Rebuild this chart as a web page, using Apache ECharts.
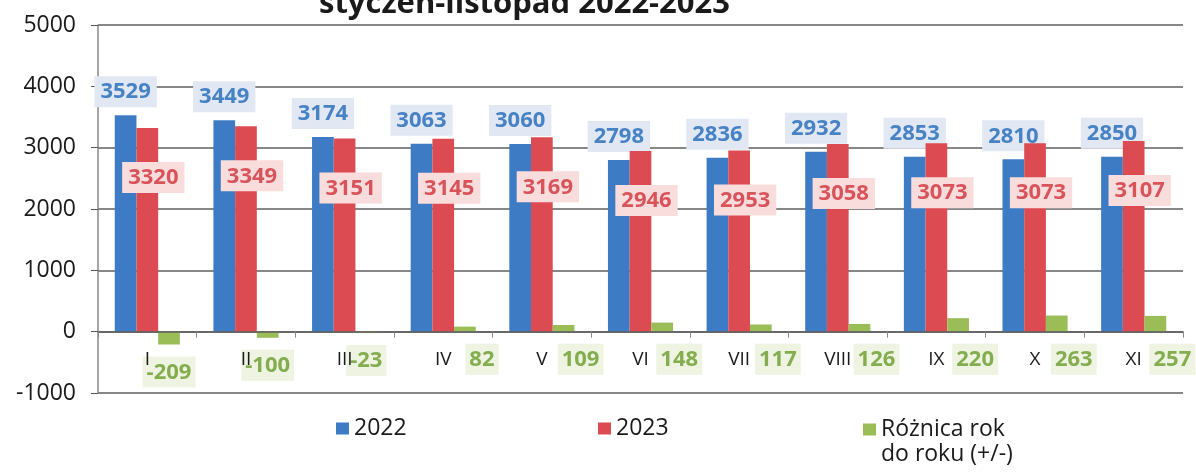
<!DOCTYPE html>
<html>
<head>
<meta charset="utf-8">
<script src="https://cdn.jsdelivr.net/npm/echarts@6/dist/echarts.min.js"></script>
<style>
html,body{margin:0;padding:0;background:#fff;}
#chart{width:1196px;height:472px;}
</style>
</head>
<body>
<div id="chart"></div>
<script>
const titleText = 'styczeń-listopad 2022-2023';
const categories = ['I','II','III','IV','V','VI','VII','VIII','IX','X','XI'];
const values2022 = [3529,3449,3174,3063,3060,2798,2836,2932,2853,2810,2850];
const values2023 = [3320,3349,3151,3145,3169,2946,2953,3058,3073,3073,3107];
const diffValues = [-209,-100,-23,82,109,148,117,126,220,263,257];
const seriesNames = ['2022','2023','Różnica rok do roku (+/-)'];
const yMin = -1000, yMax = 5000, yStep = 1000;

const FONT = 'Open Sans';
const GRID = {left: 98, right: 13, top: 25, bottom: 79};
const gridHeight = 472 - GRID.top - GRID.bottom;
// place the category axis on the zero line
const xAxisOffset = -((0 - yMin) / (yMax - yMin)) * gridHeight;

const chart = echarts.init(document.getElementById('chart'), null, {renderer:'canvas'});

function boxLabel(color, bg, pos, dist, offset, pad) {
  return {
    show: true,
    position: pos,
    distance: dist,
    offset: offset || [0,0],
    color: color,
    backgroundColor: bg,
    padding: pad || [5,6,4,6],
    fontFamily: FONT,
    fontWeight: 'bold',
    fontSize: 22
  };
}

// positive differences have their labels nudged to the right of the month name
const diffData = diffValues.map(function (v) {
  return {value: v, label: {offset: v > 0 ? [17, 0] : [0, 0]}};
});

const legendBase = {
  orient: 'horizontal',
  padding: 0,
  itemWidth: 13,
  itemHeight: 12,
  icon: 'rect',
  textStyle: {fontFamily: FONT, fontSize: 23, color: '#1a1a1a', lineHeight: 25}
};

chart.setOption({
  animation: false,
  backgroundColor: '#ffffff',
  title: {
    text: titleText,
    left: 314,
    top: -16,
    textStyle: {fontFamily: FONT, fontWeight: 'bold', fontSize: 31, color: '#1a1a1a'}
  },
  legend: [
    Object.assign({}, legendBase, {data: [seriesNames[0]], left: 336, top: 416}),
    Object.assign({}, legendBase, {data: [seriesNames[1]], left: 598, top: 416}),
    Object.assign({}, legendBase, {
      data: [seriesNames[2]], left: 863, top: 392,
      formatter: function (n) { return '\n' + n.replace(' do ', '\ndo '); }
    })
  ],
  grid: Object.assign({containLabel: false}, GRID),
  xAxis: {
    type: 'category',
    data: categories,
    offset: xAxisOffset,
    axisLine: {show: true, onZero: false, lineStyle: {color: '#5f5f5f', width: 1.5}},
    axisTick: {show: true, length: 6, lineStyle: {color: '#888'}},
    axisLabel: {margin: 18, fontFamily: FONT, fontSize: 19, color: '#1a1a1a'},
    z: 10
  },
  yAxis: {
    type: 'value',
    min: yMin, max: yMax, interval: yStep,
    axisLine: {show: true, lineStyle: {color: '#8a8a8a', width: 1.5}},
    axisTick: {show: true, length: 7, lineStyle: {color: '#555'}},
    axisLabel: {margin: 22, fontFamily: FONT, fontSize: 23, color: '#1a1a1a',
      formatter: function (v) { return String(v); }},
    splitLine: {show: true, lineStyle: {color: '#5f5f5f', width: 1.5}}
  },
  series: [
    {
      name: seriesNames[0], type: 'bar', data: values2022,
      barGap: '0%', barCategoryGap: '34%',
      itemStyle: {color: '#3d7cc4'},
      label: boxLabel('#4682c4', '#e1e7f3', 'top', 8),
      z: 3
    },
    {
      name: seriesNames[1], type: 'bar', data: values2023,
      barGap: '0%', barCategoryGap: '34%',
      itemStyle: {color: '#dc4a52'},
      label: boxLabel('#d8545a', '#f9dcdc', 'insideTop', 34, [6,0]),
      z: 4
    },
    {
      name: seriesNames[2], type: 'bar', data: diffData,
      barGap: '0%', barCategoryGap: '34%',
      itemStyle: {color: '#9bbd58'},
      label: boxLabel('#83ad4e', '#eef3e2', 'bottom', 12, null, [5,4,4,4]),
      z: 5
    }
  ]
});
</script>
</body>
</html>
